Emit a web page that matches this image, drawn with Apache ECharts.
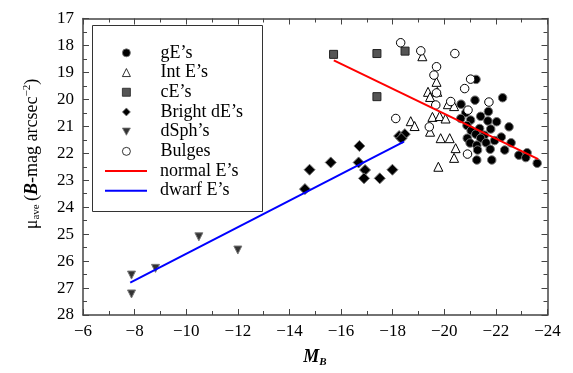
<!DOCTYPE html>
<html><head><meta charset="utf-8">
<script src="https://cdn.jsdelivr.net/npm/echarts@6/dist/echarts.min.js"></script>
<style>html,body{margin:0;padding:0;background:#fff}#c{width:573px;height:373px}</style>
</head><body><div id="c"></div>
<script>
// ---- data ----
const xTicks = [-6, -8, -10, -12, -14, -16, -18, -20, -22, -24];
const yTicks = [17, 18, 19, 20, 21, 22, 23, 24, 25, 26, 27, 28];
const gEs = [[-21.23,19.26],[-21.19,20.03],[-22.26,19.94],[-20.65,20.18],[-21.71,20.45],[-20.83,20.50],[-21.41,20.63],[-20.64,20.71],[-21.02,20.77],[-21.69,20.80],[-22.03,20.83],[-22.51,21.02],[-20.88,20.97],[-21.37,21.08],[-21.80,21.10],[-21.04,21.16],[-21.22,21.29],[-21.55,21.33],[-22.21,21.40],[-20.89,21.44],[-21.41,21.44],[-21.95,21.53],[-21.62,21.61],[-22.59,21.61],[-21.00,21.62],[-21.26,21.70],[-21.29,21.88],[-21.78,21.85],[-22.34,21.88],[-22.89,22.07],[-23.21,21.98],[-23.16,22.16],[-23.60,22.37],[-21.26,22.25],[-21.84,22.25]];
const intEs = [[-19.15,18.40],[-19.70,19.35],[-19.37,19.72],[-19.45,19.91],[-19.73,19.72],[-20.14,20.18],[-20.38,20.25],[-19.54,20.65],[-19.82,20.62],[-20.05,20.71],[-18.70,20.81],[-18.85,20.99],[-19.45,21.20],[-19.86,21.44],[-20.21,21.44],[-20.44,21.81],[-20.38,22.17],[-19.77,22.50]];
const cEs = [[-15.71,18.33],[-17.39,18.30],[-18.48,18.21],[-17.39,19.90]];
const brightdEs = [[-14.60,23.33],[-14.78,22.61],[-15.60,22.34],[-16.71,21.73],[-16.68,22.34],[-16.93,22.62],[-16.89,22.93],[-17.50,22.93],[-17.99,22.61],[-18.25,21.36],[-18.47,21.29],[-18.34,21.45]];
const dSphs = [[-7.88,26.52],[-7.88,27.22],[-8.81,26.27],[-10.49,25.10],[-12.00,25.59]];
const bulges = [[-18.31,17.90],[-19.09,18.20],[-20.41,18.30],[-19.70,18.79],[-19.60,19.10],[-19.70,19.76],[-21.02,19.25],[-20.79,19.60],[-21.73,20.10],[-20.25,20.08],[-20.92,20.40],[-19.67,20.21],[-18.12,20.71],[-19.42,21.02],[-20.90,22.03]];
const normalEline = [[-15.72,18.55],[-23.64,22.22]];
const dwarfEline = [[-7.83,26.80],[-18.44,21.57]];
const names = ['gE\u2019s','Int E\u2019s','cE\u2019s','Bright dE\u2019s','dSph\u2019s','Bulges','normal E\u2019s','dwarf E\u2019s'];

// ---- chart ----
const FONT = 'Liberation Serif';
const DOWN_TRI = 'path://M0,0L10,0L5,9Z';
const fmt = v => (v < 0 ? '\u2212' + Math.abs(v) : String(v));
const xMin = Math.min(...xTicks), xMax = Math.max(...xTicks);
const yMin = Math.min(...yTicks), yMax = Math.max(...yTicks);
const axisCommon = {
  type: 'value', splitLine: {show: false},
  axisLine: {show: true, onZero: false, lineStyle: {color: '#444', width: 1.5}},
  axisTick: {show: true, inside: true, length: 6, lineStyle: {color: '#444', width: 1}},
  minorTick: {show: true, splitNumber: 2, length: 4, lineStyle: {color: '#444', width: 1}}
};
const xBase = Object.assign({}, axisCommon, {min: xMin, max: xMax, interval: 2, inverse: true});
const yBase = Object.assign({}, axisCommon, {min: yMin, max: yMax, interval: 1, inverse: true});
const LH = 19.7;
const legText = {fontFamily: FONT, fontSize: 18, color: '#000', lineHeight: LH};

const chart = echarts.init(document.getElementById('c'), null, {renderer: 'canvas'});
chart.setOption({
  animation: false,
  backgroundColor: '#fff',
  grid: {left: 83, right: 25.5, top: 18.5, bottom: 58},
  xAxis: [
    Object.assign({}, xBase, {position: 'bottom', axisLabel: {show: true, margin: 8, fontFamily: FONT, fontSize: 17, color: '#000', formatter: fmt}}),
    Object.assign({}, xBase, {position: 'top', axisLabel: {show: false}})
  ],
  yAxis: [
    Object.assign({}, yBase, {position: 'left', axisLabel: {show: true, margin: 9, fontFamily: FONT, fontSize: 17, color: '#000', formatter: fmt}}),
    Object.assign({}, yBase, {position: 'right', axisLabel: {show: false}})
  ],
  legend: [
    {data: names.slice(0, 6), orient: 'vertical', left: 122, top: 43, padding: 0,
     itemWidth: 8, itemHeight: 8, itemGap: 0, selectedMode: false,
     itemStyle: {borderWidth: 0.8},
     textStyle: Object.assign({padding: [0,0,0,25]}, legText)},
    {data: names.slice(6).map(n => ({name: n, icon: 'rect'})), orient: 'vertical', left: 105, top: 43 + 6 * LH, padding: 0,
     itemWidth: 42, itemHeight: 2, itemGap: 0, selectedMode: false,
     textStyle: Object.assign({padding: [0,0,0,8]}, legText)}
  ],
  graphic: [
    {type: 'rect', left: 92, top: 25, shape: {width: 170, height: 186}, style: {fill: '#fff', stroke: '#333', lineWidth: 1}, z: -1},
    {type: 'text', x: 32, y: 154, rotation: Math.PI/2, style: {
      text: '{m|\u03bc}{s|ave} {m|(}{i|B}{m|-mag arcsec}{p|\u22122}{m|)}',
      align: 'center', verticalAlign: 'middle',
      rich: {
        m: {fontFamily: FONT, fontSize: 18, color: '#000', lineHeight: 24, verticalAlign: 'middle'},
        i: {fontFamily: FONT, fontSize: 18, fontStyle: 'italic', fontWeight: 'bold', color: '#000', lineHeight: 24, verticalAlign: 'middle'},
        s: {fontFamily: FONT, fontSize: 11, color: '#000', lineHeight: 24, verticalAlign: 'bottom', padding: [0,0,2,0]},
        p: {fontFamily: FONT, fontSize: 11, color: '#000', lineHeight: 24, verticalAlign: 'top', padding: [2,0,0,0]}
      }}},
    {type: 'text', x: 315, y: 357, style: {
      text: '{m|M}{s|B}', align: 'center', verticalAlign: 'middle',
      rich: {
        m: {fontFamily: FONT, fontSize: 18, fontStyle: 'italic', fontWeight: 'bold', color: '#000', lineHeight: 22, verticalAlign: 'middle'},
        s: {fontFamily: FONT, fontSize: 11, fontStyle: 'italic', fontWeight: 'bold', color: '#000', lineHeight: 22, verticalAlign: 'bottom'}
      }}}
  ],
  series: [
    {name: names[0], type: 'scatter', data: gEs, symbol: 'circle', symbolSize: 8.5,
     itemStyle: {color: '#000', borderColor: '#777', borderWidth: 1, opacity: 1}},
    {name: names[1], type: 'scatter', data: intEs, symbol: 'triangle', symbolSize: 9,
     itemStyle: {color: '#fff', borderColor: '#000', borderWidth: 1, opacity: 1}},
    {name: names[2], type: 'scatter', data: cEs, symbol: 'rect', symbolSize: 8,
     itemStyle: {color: '#555', borderColor: '#222', borderWidth: 1, opacity: 1}},
    {name: names[3], type: 'scatter', data: brightdEs, symbol: 'diamond', symbolSize: 11,
     itemStyle: {color: '#000', borderColor: '#777', borderWidth: 1, opacity: 1}},
    {name: names[4], type: 'scatter', data: dSphs, symbol: DOWN_TRI, symbolSize: 8,
     itemStyle: {color: '#333', borderColor: '#777', borderWidth: 1, opacity: 1}},
    {name: names[5], type: 'scatter', data: bulges, symbol: 'circle', symbolSize: 8.5,
     itemStyle: {color: '#fff', borderColor: '#000', borderWidth: 1, opacity: 1}},
    {name: names[6], type: 'line', data: normalEline, symbol: 'none', showSymbol: false,
     lineStyle: {color: '#f00', width: 2}, itemStyle: {color: '#f00'}},
    {name: names[7], type: 'line', data: dwarfEline, symbol: 'none', showSymbol: false,
     lineStyle: {color: '#00f', width: 2}, itemStyle: {color: '#00f'}}
  ]
});
</script></body></html>
